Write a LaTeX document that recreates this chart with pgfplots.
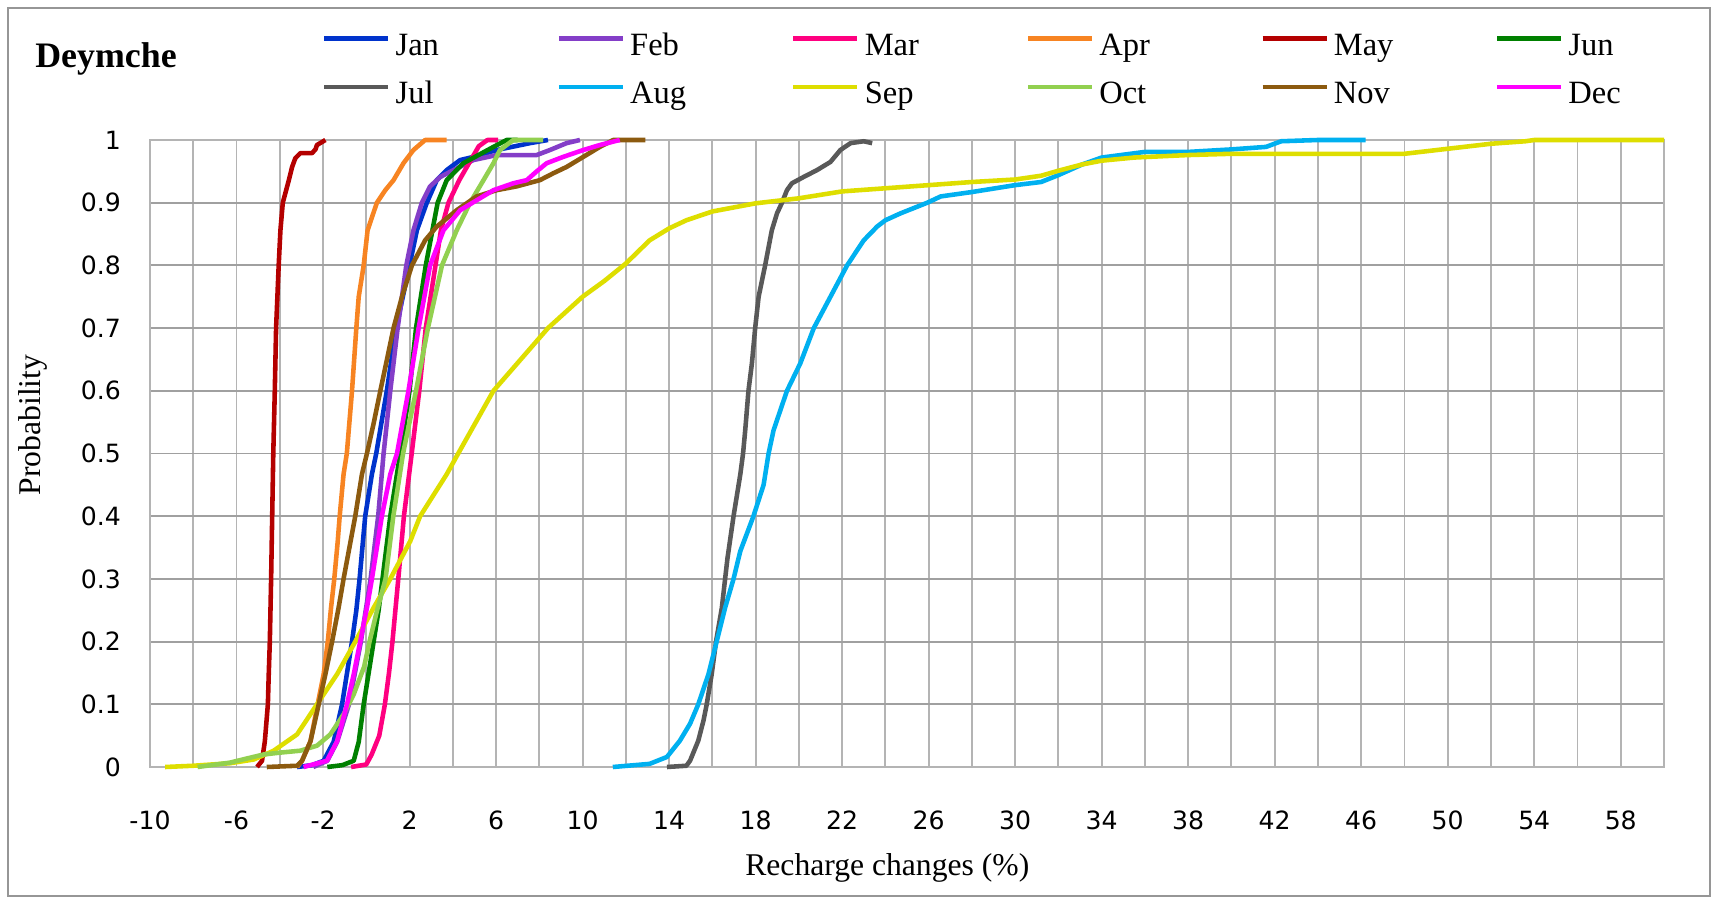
\documentclass[border=0pt]{standalone}
\usepackage{fontspec}
\setmainfont{Liberation Serif}
\newfontfamily\tickfont{DejaVu Sans}
\usepackage{pgfplots}
\pgfplotsset{compat=1.18}
\definecolor{cJan}{RGB}{0,51,204}
\definecolor{cFeb}{RGB}{132,62,200}
\definecolor{cMar}{RGB}{255,0,128}
\definecolor{cApr}{RGB}{247,132,34}
\definecolor{cMay}{RGB}{180,0,0}
\definecolor{cJun}{RGB}{0,128,0}
\definecolor{cJul}{RGB}{89,89,89}
\definecolor{cAug}{RGB}{0,176,240}
\definecolor{cSep}{RGB}{222,222,0}
\definecolor{cOct}{RGB}{146,208,80}
\definecolor{cNov}{RGB}{140,90,15}
\definecolor{cDec}{RGB}{255,0,255}
\definecolor{gridc}{RGB}{180,180,180}
\definecolor{gridh}{RGB}{160,160,160}
\definecolor{framec}{RGB}{150,150,150}
\newcommand{\legtxt}[1]{\makebox[3.22cm][l]{\strut #1}}
\newcommand{\legtxtlast}[1]{\makebox[1.2cm][l]{\strut #1}}
\begin{document}
\begin{tikzpicture}
\path (0,0) rectangle (34.36,17.98);
\draw[framec, line width=1.2pt] (0.16,0.06) rectangle (34.2,17.82);
\node[anchor=west, font=\fontsize{20.4}{24}\selectfont\bfseries, inner sep=0pt] at (0.7,16.81) {Deymche};
\begin{axis}[
  at={(3.0cm,2.64cm)}, anchor=south west,
  scale only axis, width=30.28cm, height=12.54cm,
  xmin=-10, xmax=60, ymin=0, ymax=1,
  xtick={-10,-6,...,58},
  xticklabels={-10,-6,-2,2,6,10,14,18,22,26,30,34,38,42,46,50,54,58},
  minor xtick={-8,-4,...,60},
  ytick={0,0.1,0.2,0.3,0.4,0.5,0.6,0.7,0.8,0.9,1},
  yticklabels={0,0.1,0.2,0.3,0.4,0.5,0.6,0.7,0.8,0.9,1},
  xmajorgrids, xminorgrids, ymajorgrids,
  x grid style={gridc, line width=1.1pt},
  y grid style={gridh, line width=1.1pt},
  minor x grid style={gridc, line width=1.1pt},
  axis line style={gridc, line width=1.1pt},
  major tick length=0pt, minor tick length=0pt,
  tick label style={font=\tickfont\fontsize{14.3}{17}\selectfont},
  xticklabel style={yshift=-0.76cm},
  yticklabel style={xshift=-0.46cm},
  xlabel={Recharge changes (\%)},
  ylabel={Probability},
  label style={font=\fontsize{18}{21}\selectfont},
  xlabel style={at={(axis description cs:0.487,-0.161)}, anchor=center},
  ylabel style={at={(axis description cs:-0.0773,0.5455)}, anchor=center},
  clip=false,
  legend columns=6,
  legend style={at={(0.1134,1.1765)}, anchor=north west, draw=none, fill=none,
    inner sep=0pt, font=\fontsize{18.5}{21}\selectfont, row sep=0.4cm,
    column sep=0pt, nodes={inner sep=0pt},
    /tikz/every odd column/.append style={column sep=0.1cm}},
  legend cell align=left,
  legend image code/.code={\draw[#1, line width=2.6pt] (0cm,0.3em) -- (1.28cm,0.3em);},
  every axis plot/.append style={line width=2.6pt, no marks, line join=round},
]
% Jan
\addplot[cJan] coordinates {(-3.2,0) (-2.5,0.003) (-1.97,0.01) (-1.51,0.04) (-1.12,0.1) (-0.89,0.15) (-0.66,0.2) (-0.46,0.25) (-0.31,0.3) (-0.05,0.4) (0.26,0.467) (0.46,0.5) (0.95,0.6) (1.38,0.7) (2.0,0.8) (2.34,0.856) (2.8,0.9) (3.26,0.936) (3.72,0.952) (4.34,0.968) (4.95,0.973) (6.03,0.984) (7.57,0.995) (8.4,1.0)};
\addlegendentry{\legtxt{Jan}}
% Feb
\addplot[cFeb] coordinates {(-2.45,0) (-1.8,0.01) (-1.35,0.04) (-0.8,0.1) (-0.25,0.2) (0.2,0.3) (0.55,0.4) (0.8,0.5) (1.11,0.6) (1.45,0.7) (1.65,0.75) (1.85,0.8) (2.18,0.856) (2.57,0.9) (2.95,0.926) (3.42,0.941) (4.03,0.952) (4.95,0.968) (6.03,0.976) (7.88,0.976) (8.49,0.984) (9.26,0.995) (9.88,1.0)};
\addlegendentry{\legtxt{Feb}}
% Mar
\addplot[cMar] coordinates {(-0.7,0) (0.0,0.004) (0.25,0.02) (0.6,0.05) (0.86,0.1) (1.05,0.15) (1.21,0.2) (1.48,0.3) (1.74,0.4) (2.1,0.5) (2.45,0.6) (2.75,0.7) (3.2,0.8) (3.45,0.856) (3.8,0.9) (4.3,0.936) (4.75,0.963) (5.2,0.99) (5.6,1.0) (6.1,1.0)};
\addlegendentry{\legtxt{Mar}}
% Apr
\addplot[cApr] coordinates {(-3.2,0) (-2.97,0.01) (-2.58,0.041) (-2.25,0.1) (-1.97,0.148) (-1.78,0.2) (-1.63,0.254) (-1.48,0.3) (-1.32,0.36) (-1.23,0.4) (-1.05,0.467) (-0.9,0.5) (-0.66,0.6) (-0.46,0.7) (-0.35,0.75) (-0.12,0.8) (0.06,0.856) (0.49,0.9) (0.88,0.92) (1.26,0.936) (1.72,0.963) (2.18,0.984) (2.72,1.0) (3.72,1.0)};
\addlegendentry{\legtxt{Apr}}
% May
\addplot[cMay] coordinates {(-5.05,0) (-4.82,0.01) (-4.69,0.041) (-4.55,0.1) (-4.51,0.148) (-4.46,0.2) (-4.4,0.3) (-4.35,0.4) (-4.3,0.5) (-4.23,0.6) (-4.17,0.7) (-4.05,0.8) (-3.97,0.856) (-3.86,0.9) (-3.58,0.936) (-3.43,0.957) (-3.28,0.971) (-3.05,0.979) (-2.51,0.979) (-2.35,0.985) (-2.28,0.992) (-1.89,1.0)};
\addlegendentry{\legtxt{May}}
% Jun
\addplot[cJun] coordinates {(-1.8,0) (-1.1,0.003) (-0.58,0.01) (-0.35,0.04) (-0.12,0.1) (0.11,0.15) (0.34,0.2) (0.57,0.25) (0.75,0.3) (1.11,0.4) (1.57,0.5) (2.0,0.6) (2.3,0.7) (2.75,0.8) (3.3,0.9) (3.72,0.936) (4.49,0.963) (5.88,0.989) (6.49,1.0) (7.0,1.0)};
\addlegendentry{\legtxtlast{Jun}}
% Jul
\addplot[cJul] coordinates {(13.9,0) (14.8,0.002) (14.97,0.01) (15.35,0.042) (15.59,0.074) (15.74,0.1) (15.97,0.148) (16.17,0.2) (16.44,0.254) (16.59,0.3) (16.7,0.333) (16.98,0.4) (17.29,0.466) (17.42,0.5) (17.52,0.537) (17.67,0.6) (17.83,0.644) (17.98,0.7) (18.14,0.75) (18.44,0.8) (18.75,0.856) (18.99,0.883) (19.22,0.9) (19.45,0.92) (19.68,0.931) (20.22,0.941) (20.84,0.952) (21.46,0.965) (21.92,0.984) (22.39,0.995) (23.0,0.998) (23.39,0.995)};
\addlegendentry{\legtxt{Jul}}
% Aug
\addplot[cAug] coordinates {(11.4,0) (13.1,0.005) (13.9,0.016) (14.5,0.042) (14.97,0.069) (15.35,0.1) (15.82,0.148) (16.2,0.2) (16.59,0.254) (16.98,0.3) (17.29,0.344) (17.9,0.4) (18.37,0.45) (18.6,0.5) (18.83,0.537) (19.45,0.6) (20.07,0.644) (20.69,0.7) (21.46,0.75) (22.23,0.8) (23.0,0.84) (23.62,0.862) (24.0,0.872) (24.7,0.883) (25.94,0.9) (26.56,0.91) (28,0.917) (30,0.928) (31.2,0.933) (32,0.944) (33.1,0.961) (34,0.972) (36,0.981) (38,0.981) (40,0.985) (41.6,0.989) (42.3,0.998) (44,1.0) (46.2,1.0)};
\addlegendentry{\legtxt{Aug}}
% Sep
\addplot[cSep] coordinates {(-9.3,0) (-8,0.002) (-6.3,0.006) (-5.2,0.012) (-4.28,0.026) (-3.2,0.052) (-2.28,0.1) (-1.35,0.148) (-0.51,0.2) (0.34,0.254) (1.11,0.3) (2.03,0.36) (2.49,0.4) (3.72,0.467) (4.25,0.5) (5.88,0.6) (8.4,0.7) (10.0,0.75) (11.0,0.775) (12,0.803) (13.1,0.84) (14,0.859) (14.8,0.872) (16,0.886) (18,0.899) (20,0.907) (22,0.918) (24,0.923) (26,0.928) (28,0.933) (30,0.937) (31.2,0.943) (32,0.951) (33.1,0.961) (34,0.967) (35.5,0.972) (38,0.976) (40,0.978) (48,0.978) (50,0.986) (52,0.994) (53.6,0.998) (54,1) (60,1)};
\addlegendentry{\legtxt{Sep}}
% Oct
\addplot[cOct] coordinates {(-7.8,0) (-6.3,0.007) (-5.35,0.015) (-4.74,0.02) (-3.97,0.023) (-3.05,0.026) (-2.28,0.034) (-1.66,0.052) (-1.05,0.084) (-0.58,0.116) (-0.1,0.16) (0.15,0.2) (0.5,0.25) (0.89,0.3) (1.25,0.4) (1.7,0.5) (2.3,0.6) (2.85,0.7) (3.5,0.8) (4.18,0.856) (4.8,0.9) (5.42,0.936) (5.88,0.963) (6.18,0.984) (6.8,1.0) (8.18,1.0)};
\addlegendentry{\legtxt{Oct}}
% Nov
\addplot[cNov] coordinates {(-4.6,0) (-3.2,0.002) (-2.97,0.01) (-2.58,0.041) (-2.2,0.1) (-1.89,0.148) (-1.58,0.2) (-1.28,0.254) (-1.05,0.3) (-0.51,0.4) (-0.2,0.467) (0.03,0.5) (0.34,0.548) (0.65,0.6) (0.95,0.649) (1.26,0.7) (1.65,0.75) (2.11,0.8) (2.72,0.84) (3.26,0.862) (4.18,0.888) (5.1,0.91) (6.03,0.92) (6.95,0.926) (8.03,0.936) (8.65,0.947) (9.26,0.957) (10.03,0.973) (10.8,0.989) (11.42,1.0) (12.9,1.0)};
\addlegendentry{\legtxt{Nov}}
% Dec
\addplot[cDec] coordinates {(-2.9,0) (-1.82,0.01) (-1.35,0.041) (-0.89,0.1) (-0.58,0.148) (-0.28,0.2) (0.03,0.254) (0.26,0.3) (0.72,0.4) (1.11,0.467) (1.42,0.5) (1.95,0.6) (2.42,0.7) (2.95,0.8) (3.57,0.856) (4.34,0.888) (5.11,0.904) (5.88,0.92) (6.8,0.931) (7.42,0.936) (7.88,0.95) (8.34,0.963) (9.1,0.973) (10.03,0.984) (10.8,0.992) (11.72,1.0)};
\addlegendentry{\legtxtlast{Dec}}
\end{axis}
\end{tikzpicture}
\end{document}
